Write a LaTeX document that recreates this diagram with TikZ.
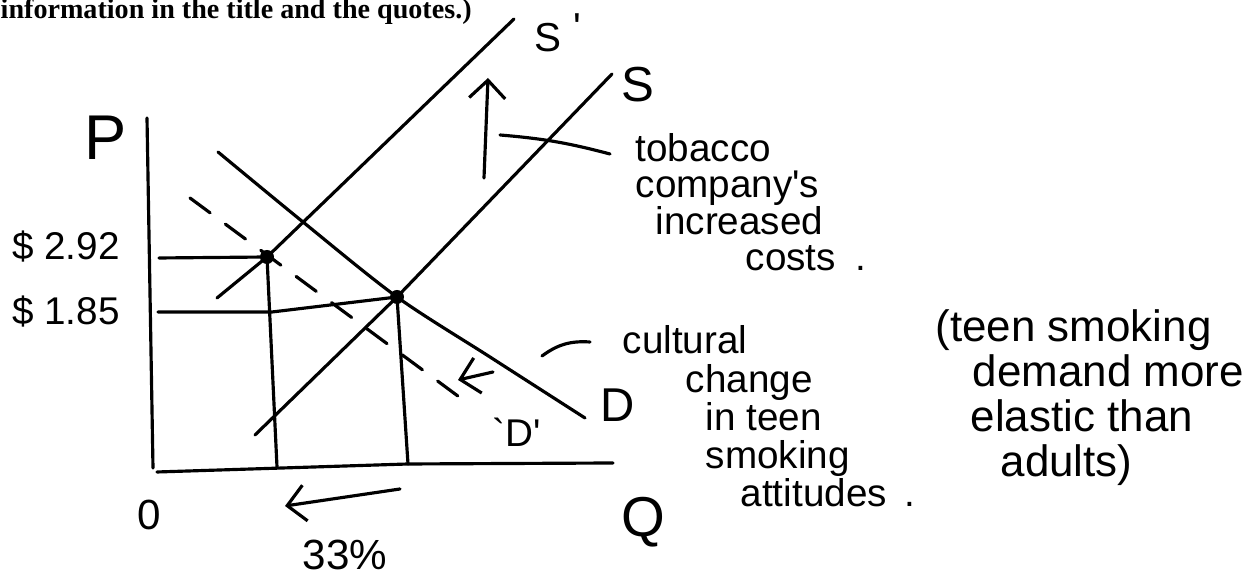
\documentclass[tikz,border=0pt]{standalone}
\usepackage{fontspec}
\setmainfont{Liberation Serif}
\newfontfamily\handfont{Liberation Sans}
\usetikzlibrary{arrows.meta}

\begin{document}
\begin{tikzpicture}[
  curve/.style={line width=0.9pt, line cap=round},
  dashcurve/.style={curve, dash pattern=on 2.5mm off 1.9mm},
  eq/.style={circle, fill, inner sep=0pt, minimum size=1.4mm},
  move/.style={curve, -{Straight Barb[length=1.8mm, width=3.6mm]}},
  hand/.style={font=\handfont\fontsize{#1}{#1}\selectfont, inner sep=0pt},
  note/.style 2 args={font=\handfont\fontsize{#1}{#2}\selectfont, align=left, anchor=north west, inner sep=0pt},
]
\useasboundingbox (0,0) rectangle (12.46,5.75);

% printed line at the top
\node[anchor=base west, inner sep=0pt, font=\bfseries\fontsize{8}{9}\selectfont] (title) at (0,5.56) {information in the title and the quotes.)};

% axes
\draw[curve] (1.47,4.57) -- (1.53,1.07);
\draw[curve] (1.57,1.03) -- (4.08,1.11) -- (6.13,1.12);
\node[hand=18] (plabel) at (1.06,4.37) {P};
\node[hand=12] (origin) at (1.49,0.60) {0};
\node[hand=16] (qlabel) at (6.43,0.53) {Q};

% equilibria
\node[eq] (e1) at (2.67,3.18) {};
\node[eq] (e2) at (3.97,2.78) {};

% supply, old and new
\draw[curve] (2.17,2.77) -- (e1.center) -- (5.14,5.56);
\draw[curve] (2.55,1.40) -- (e2.center) -- (6.12,5.01);
\node[hand=11.5] (sprime) at (5.58,5.42) {S\hspace{1.2mm}\raisebox{1mm}{'}};
\node[hand=14] (slabel) at (6.38,4.90) {S};

% demand, old and new
\draw[curve] plot[smooth] coordinates {(2.18,4.23) (3.03,3.53) (3.97,2.78) (4.90,2.18) (5.85,1.57)};
\draw[dashcurve] (1.90,3.77) -- (4.70,1.70);
\node[hand=13.5] (dlabel) at (6.18,1.70) {D};
\node[hand=11] (dprime) at (5.17,1.43) {`D'};

% prices and quantities
\draw[curve] (1.59,3.17) -- (e1.center);
\draw[curve] (1.58,2.63) -- (2.72,2.63) -- (e2.center);
\draw[curve] (e1.center) -- (2.77,1.08);
\draw[curve] (e2.center) -- (4.08,1.11);
\node[hand=11] (phigh) at (0.66,3.28) {\$ 2.92};
\node[hand=11] (plow) at (0.66,2.63) {\$ 1.85};

% shifts
\draw[move] (4.84,3.97) -- (4.88,4.97);
\draw[move] (4.93,2.03) -- (4.58,1.95);
\draw[move] (4.00,0.86) -- (2.85,0.69);
\node[hand=12] (qdrop) at (3.45,0.20) {33\%};

% notes
\draw[curve] (5.00,4.40) to[bend left=5] (6.10,4.21);
\draw[curve] (5.42,2.19) to[bend left=20] (5.90,2.33);
\node[note={11}{10.3}] (costnote) at (6.35,4.42) {tobacco\\company's\\\hspace*{2mm}increased\\\hspace*{11mm}costs\hspace{2mm}.};
\node[note={11}{10.9}] (culturenote) at (6.22,2.50) {cultural\\\hspace*{6.3mm}change\\\hspace*{8.3mm}in teen\\\hspace*{8.3mm}smoking\\\hspace*{11.8mm}attitudes\hspace{1.8mm}.};
\node[note={12.5}{12.8}] (elastnote) at (9.35,2.66) {(teen smoking\\\hspace*{3.7mm}demand more\\\hspace*{3.5mm}elastic than\\\hspace*{6.5mm}adults)};
\end{tikzpicture}
\end{document}
